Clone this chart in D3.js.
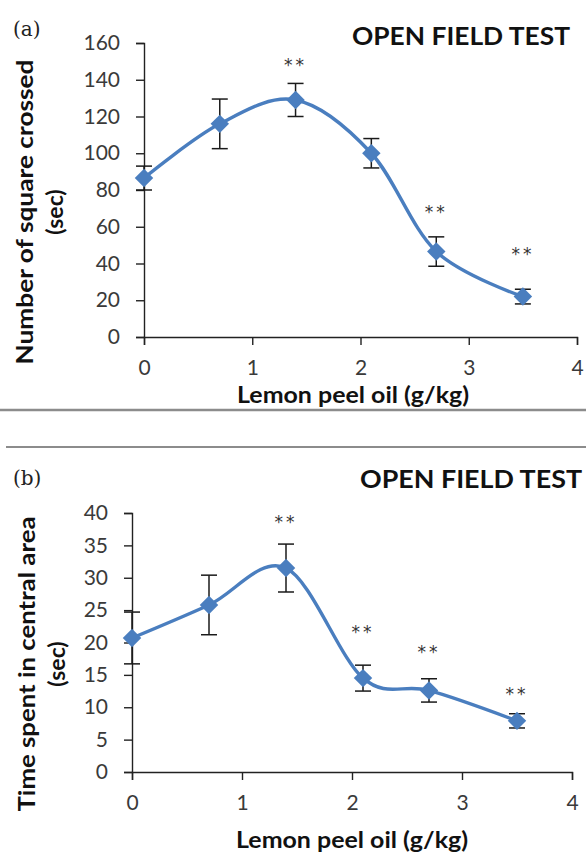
<!DOCTYPE html>
<html>
<head>
<meta charset="utf-8">
<script src="https://cdn.jsdelivr.net/npm/d3@7"></script>
<style>
  html, body { margin: 0; padding: 0; background: #fff; }
  svg { display: block; }
</style>
</head>
<body>
<script>
// ---- data ----
const doses = [0, 0.7, 1.4, 2.1, 2.7, 3.5];
const xTicks = [0, 1, 2, 3, 4];

const squaresCrossed = [86.5, 116, 129, 100, 46.5, 22];
const squaresErr = [6.5, 13.5, 9, 8, 8, 4];
const squaresStars = ["", "", "**", "", "**", "**"];
const squaresStarLevel = [null, null, 148, null, 68, 45];
const squaresTicks = [0, 20, 40, 60, 80, 100, 120, 140, 160];

const centralTime = [20.7, 25.8, 31.5, 14.5, 12.6, 7.9];
const centralErr = [4, 4.6, 3.7, 2, 1.8, 1.1];
const centralStars = ["", "", "**", "**", "**", "**"];
const centralStarLevel = [null, null, 38.6, 21.6, 18.5, 12];
const centralTicks = [0, 5, 10, 15, 20, 25, 30, 35, 40];

const W = 586, H = 854;
const svg = d3.select("body").append("svg").attr("width", W).attr("height", H);

const BLUE = "#4a7ebf";
const FONT = "Lato, 'Open Sans', sans-serif";

function panel(cfg) {
  const g = svg.append("g");
  const x = d3.scaleLinear().domain([0, 4]).range([cfg.x0, cfg.x1]);
  const y = d3.scaleLinear().domain([0, cfg.ymax]).range([cfg.y0, cfg.y1]);

  // panel label
  g.append("text").attr("x", 13).attr("y", cfg.labelY)
    .attr("font-family", "'DejaVu Serif', 'Liberation Serif', serif")
    .attr("font-size", 20).attr("fill", "#222").text(cfg.label);

  // title
  g.append("text").attr("x", cfg.titleRight).attr("y", cfg.titleY)
    .attr("text-anchor", "end").attr("font-family", FONT).attr("font-weight", 700)
    .attr("font-size", 25).attr("fill", "#111")
    .attr("textLength", cfg.titleLen).attr("lengthAdjust", "spacingAndGlyphs")
    .text("OPEN FIELD TEST");

  // axes
  const yAxis = d3.axisLeft(y).tickValues(cfg.yTicks).tickSize(8).tickPadding(16).tickFormat(d3.format("d"));
  const xAxis = d3.axisBottom(x).tickValues(xTicks).tickSize(8).tickPadding(15).tickFormat(d3.format("d"));

  const ya = g.append("g").attr("transform", `translate(${cfg.x0},0)`).call(yAxis);
  const xa = g.append("g").attr("transform", `translate(0,${cfg.y0})`).call(xAxis);
  [ya, xa].forEach(a => {
    a.select(".domain").attr("stroke", "#222").attr("stroke-width", 1.4);
    a.selectAll(".tick line").attr("stroke", "#222").attr("stroke-width", 1.4);
    a.selectAll(".tick text").attr("font-family", FONT).attr("font-size", 21).attr("fill", "#3a3a3a");
  });

  // axis titles
  g.append("text").attr("x", cfg.xTitleX).attr("y", cfg.xTitleY)
    .attr("text-anchor", "middle").attr("font-family", FONT).attr("font-weight", 700)
    .attr("font-size", 23).attr("fill", "#111")
    .attr("textLength", 232).attr("lengthAdjust", "spacingAndGlyphs")
    .text("Lemon peel oil (g/kg)");

  const cy = cfg.yTitleCy;
  g.append("text").attr("transform", `translate(${cfg.yTitleX1},${cy}) rotate(-90)`)
    .attr("text-anchor", "middle").attr("dominant-baseline", "central")
    .attr("font-family", FONT).attr("font-weight", 700).attr("font-size", 23).attr("fill", "#111")
    .attr("textLength", cfg.yTitleLen).attr("lengthAdjust", "spacingAndGlyphs")
    .text(cfg.yTitle);
  g.append("text").attr("transform", `translate(${cfg.yTitleX2},${cy}) rotate(-90)`)
    .attr("text-anchor", "middle").attr("dominant-baseline", "central")
    .attr("font-family", FONT).attr("font-weight", 700).attr("font-size", 23).attr("fill", "#111")
    .text("(sec)");

  const pts = doses.map((d, i) => ({ x: d, v: cfg.values[i], e: cfg.errors[i], s: cfg.stars[i], sl: cfg.starLevel[i] }));

  // error bars
  const eb = g.append("g").attr("stroke", "#1a1a1a").attr("stroke-width", 1.5);
  pts.forEach(p => {
    const px = x(p.x);
    eb.append("line").attr("x1", px).attr("x2", px).attr("y1", y(p.v - p.e)).attr("y2", y(p.v + p.e));
    eb.append("line").attr("x1", px - 8).attr("x2", px + 8).attr("y1", y(p.v + p.e)).attr("y2", y(p.v + p.e));
    eb.append("line").attr("x1", px - 8).attr("x2", px + 8).attr("y1", y(p.v - p.e)).attr("y2", y(p.v - p.e));
  });

  // smoothed line
  const line = d3.line().x(p => x(p.x)).y(p => y(p.v)).curve(d3.curveCatmullRom.alpha(0));
  g.append("path").datum(pts).attr("d", line).attr("fill", "none")
    .attr("stroke", BLUE).attr("stroke-width", 3.4);

  // diamond markers
  const sym = d3.symbol().type(d3.symbolSquare).size(170);
  g.selectAll(".mk").data(pts).enter().append("path")
    .attr("d", sym).attr("fill", BLUE)
    .attr("transform", p => `translate(${x(p.x)},${y(p.v)}) rotate(45)`);

  // significance stars
  g.selectAll(".st").data(pts.filter(p => p.s)).enter().append("text")
    .attr("x", p => x(p.x)).attr("y", p => y(p.sl))
    .attr("text-anchor", "middle").attr("dominant-baseline", "central")
    .attr("font-family", "'DejaVu Sans', sans-serif").attr("font-size", 17).attr("fill", "#333")
    .attr("letter-spacing", 3)
    .text(p => p.s);
}

// separator lines
svg.append("line").attr("x1", 0).attr("x2", W).attr("y1", 410).attr("y2", 410)
  .attr("stroke", "#8c8c8c").attr("stroke-width", 2.5);
svg.append("line").attr("x1", 6).attr("x2", W).attr("y1", 447).attr("y2", 447)
  .attr("stroke", "#8c8c8c").attr("stroke-width", 2);

panel({
  label: "(a)", labelY: 36,
  titleRight: 570, titleY: 45, titleLen: 218,
  x0: 144, x1: 577, y0: 337, y1: 43, ymax: 160,
  yTicks: squaresTicks,
  values: squaresCrossed, errors: squaresErr, stars: squaresStars, starLevel: squaresStarLevel,
  xTitleX: 353, xTitleY: 403,
  yTitle: "Number of square crossed", yTitleLen: 305, yTitleCy: 212, yTitleX1: 24, yTitleX2: 54
});

panel({
  label: "(b)", labelY: 485,
  titleRight: 582, titleY: 488, titleLen: 222,
  x0: 132, x1: 572, y0: 772, y1: 513, ymax: 40,
  yTicks: centralTicks,
  values: centralTime, errors: centralErr, stars: centralStars, starLevel: centralStarLevel,
  xTitleX: 352, xTitleY: 848,
  yTitle: "Time spent in central area", yTitleLen: 295, yTitleCy: 664, yTitleX1: 26, yTitleX2: 56
});
</script>
</body>
</html>
